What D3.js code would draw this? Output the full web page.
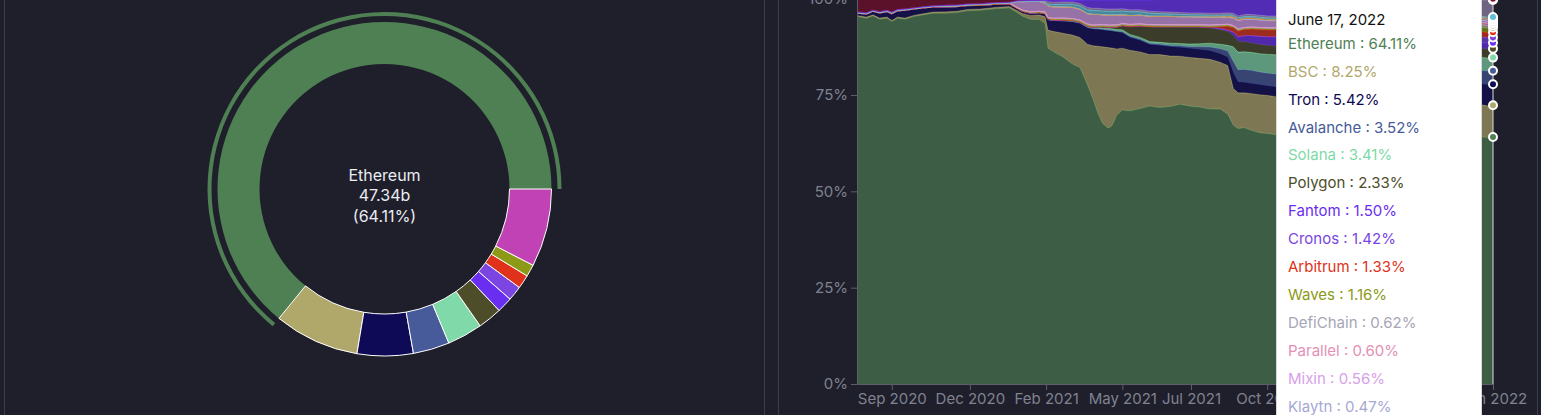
<!DOCTYPE html>
<html><head><meta charset="utf-8">
<script src="https://cdn.jsdelivr.net/npm/d3@7"></script>
<style>
html,body{margin:0;padding:0;background:#1e1f2b;overflow:hidden;}
svg{display:block;font-family:Inter,"Noto Sans",sans-serif;}
</style></head><body>
<svg id="chart" width="1541" height="415"></svg>
<script>
// ---------- DATA ----------
const dates = ["2020-08-10","2020-08-20","2020-08-27","2020-09-03","2020-09-11","2020-09-16","2020-09-22","2020-09-30","2020-10-09","2020-10-19","2020-10-30","2020-11-13","2020-11-24","2020-12-05","2020-12-19","2021-01-06","2021-01-19","2021-01-27","2021-02-02","2021-02-10","2021-02-20","2021-02-26","2021-03-01","2021-03-06","2021-03-17","2021-03-27","2021-04-04","2021-04-12","2021-04-18","2021-04-23","2021-04-28","2021-05-04","2021-05-08","2021-05-13","2021-05-19","2021-05-27","2021-06-07","2021-06-17","2021-06-28","2021-07-09","2021-07-19","2021-07-30","2021-08-09","2021-08-20","2021-08-31","2021-09-08","2021-09-14","2021-09-19","2021-09-26","2021-10-04","2021-10-12","2021-10-21","2021-10-29","2021-11-15","2021-12-01","2021-12-20","2022-01-10","2022-02-01","2022-02-20","2022-03-10","2022-04-01","2022-04-20","2022-05-08","2022-05-15","2022-05-25","2022-06-05","2022-06-11","2022-06-17"];

const ethereum = [95.35,94.94,95.53,94.68,94.94,94.06,94.94,94.68,95.35,95.79,96.24,96.24,96.39,96.91,97.09,97.53,97.79,96.65,95.79,95.02,94.94,93.98,87.2,86.2,84.9,83.1,82.0,77.9,74.1,70.6,68.0,66.7,67.5,70.4,71.4,71.1,71.9,72.7,72.2,72.4,73.0,72.4,72.2,71.7,71.9,70.6,67.2,66.5,66.7,65.9,65.4,65.2,64.9,64.0,62.8,61.9,61.2,61.8,62.4,62.9,63.2,63.5,63.6,64.5,64.3,64.2,64.0,64.11];
const bsc = [0.3,0.3,0.3,0.3,0.3,0.3,0.3,0.3,0.3,0.3,0.3,0.35,0.35,0.35,0.35,0.35,0.4,0.5,0.7,1.0,1.2,1.8,4.7,5.2,6.2,7.5,7.8,10.6,14.0,17.4,20.0,21.0,20.3,17.4,16.1,15.8,14.8,13.5,13.8,13.2,12.5,12.7,12.7,13.0,12.2,12.7,9.6,9.3,9.1,9.6,9.9,9.9,9.9,9.8,9.5,9.4,9.2,9.0,8.8,8.7,8.6,8.5,8.4,8.5,8.4,8.3,8.28,8.25];
const tron = [0.6,0.75,0.9,1.3,1.4,1.7,1.6,2.0,1.65,1.5,1.3,1.3,1.2,1.0,0.9,0.8,0.6,0.5,0.5,0.5,0.5,0.7,2.6,2.7,3.1,3.4,3.6,4.2,4.3,4.4,4.4,4.4,4.4,4.4,4.0,3.3,3.0,2.6,2.4,2.4,2.3,2.3,2.3,2.2,2.2,2.2,4.0,2.8,2.7,2.6,2.6,2.5,2.5,2.4,2.5,2.6,2.8,3.2,3.5,3.8,4.1,4.3,4.6,5.2,5.3,5.4,5.45,5.42];
const avalanche = [0,0,0,0,0,0,0,0,0,0,0,0,0,0,0,0,0.05,0.05,0.05,0.05,0.05,0.05,0.1,0.1,0.1,0.15,0.15,0.2,0.2,0.2,0.2,0.2,0.25,0.25,0.3,0.3,0.3,0.3,0.3,0.35,0.4,0.5,0.7,1.0,1.3,1.6,3.0,3.2,3.4,3.4,3.3,3.3,3.4,4.0,4.8,5.1,5.3,5.0,4.6,4.3,4.2,4.0,3.8,3.6,3.6,3.5,3.55,3.52];
const solana = [0,0,0,0,0,0,0,0,0,0,0,0,0,0,0,0,0.02,0.02,0.03,0.05,0.05,0.08,0.1,0.1,0.15,0.2,0.2,0.3,0.3,0.35,0.4,0.4,0.4,0.45,0.5,0.5,0.5,0.5,0.5,0.6,0.6,0.7,0.8,1.0,1.2,1.5,3.8,4.6,4.6,4.7,4.8,4.9,5.0,5.2,5.0,4.8,4.6,4.2,4.0,3.9,3.8,3.7,3.6,3.5,3.5,3.4,3.42,3.41];
const polygon = [0,0,0,0,0,0,0,0,0,0,0,0,0,0,0,0,0,0,0,0,0,0,0,0,0,0,0,0,0,0.1,0.2,0.3,0.4,0.6,1.0,2.0,2.9,3.8,4.0,4.2,4.3,4.4,4.3,4.0,3.8,3.6,3.0,2.8,2.6,2.5,2.4,2.3,2.3,2.2,2.4,2.6,2.5,2.6,2.7,2.6,2.5,2.4,2.4,2.4,2.4,2.35,2.32,2.33];
const fantom = [0,0,0,0,0,0,0,0,0,0,0,0,0,0,0,0,0,0,0.02,0.03,0.03,0.04,0.05,0.05,0.05,0.05,0.05,0.05,0.05,0.05,0.05,0.05,0.05,0.05,0.1,0.1,0.1,0.1,0.1,0.1,0.1,0.1,0.15,0.2,0.3,0.4,0.8,1.2,1.6,1.9,2.1,2.3,2.4,2.5,2.9,3.4,4.2,4.6,4.1,3.4,2.6,2.2,1.9,1.7,1.6,1.55,1.52,1.50];
const cronos = [0,0,0,0,0,0,0,0,0,0,0,0,0,0,0,0,0,0,0,0,0,0,0,0,0,0,0,0,0,0,0,0,0,0,0,0,0,0,0,0,0,0,0,0,0,0,0,0,0,0,0,0,0,0.3,0.8,1.3,1.6,1.5,1.4,1.4,1.4,1.4,1.5,1.5,1.5,1.45,1.43,1.42];
const arbitrum = [0,0,0,0,0,0,0,0,0,0,0,0,0,0,0,0,0,0,0,0,0,0,0,0,0,0,0,0,0,0,0,0,0,0,0,0,0,0,0,0,0,0,0,0,0.5,1.0,1.2,1.5,1.6,1.7,1.8,1.8,1.8,1.7,1.7,1.6,1.5,1.5,1.5,1.5,1.5,1.4,1.4,1.3,1.3,1.33,1.34,1.33];
const waves = [0.15,0.15,0.15,0.15,0.15,0.2,0.15,0.15,0.15,0.15,0.15,0.2,0.2,0.15,0.15,0.15,0.15,0.15,0.15,0.15,0.15,0.15,0.2,0.2,0.2,0.2,0.2,0.2,0.2,0.2,0.2,0.2,0.2,0.2,0.2,0.2,0.2,0.2,0.2,0.2,0.2,0.2,0.2,0.2,0.2,0.2,0.2,0.2,0.2,0.2,0.2,0.2,0.2,0.3,0.4,0.6,0.8,1.0,1.3,1.6,1.9,2.1,1.8,1.2,1.2,1.18,1.17,1.16];
const defichain = [0,0,0,0,0,0,0,0,0,0,0,0,0,0.05,0.1,0.1,0.1,0.1,0.15,0.15,0.15,0.2,0.2,0.2,0.3,0.3,0.3,0.3,0.3,0.3,0.3,0.3,0.3,0.3,0.3,0.3,0.3,0.3,0.3,0.3,0.3,0.3,0.3,0.3,0.3,0.3,0.3,0.3,0.3,0.3,0.3,0.3,0.3,0.3,0.4,0.5,0.6,0.6,0.6,0.6,0.6,0.6,0.6,0.6,0.6,0.62,0.62,0.62];
const parallel = [0,0,0,0,0,0,0,0,0,0,0,0,0,0,0,0,0,0,0,0,0,0,0,0,0,0,0,0,0,0,0,0,0,0,0,0,0,0,0,0,0,0,0,0,0,0,0,0,0,0,0,0,0,0,0,0,0.1,0.2,0.3,0.4,0.5,0.5,0.5,0.6,0.6,0.6,0.6,0.6];
const mixin = [0,0,0,0,0,0,0,0,0,0,0,0,0,0,0,0,0,1.5,2.2,2.7,2.6,2.4,3.0,3.0,2.9,2.9,2.8,2.7,2.8,2.7,2.6,2.6,2.6,2.6,2.3,2.3,2.3,2.2,2.2,2.2,2.1,2.1,2.0,2.0,1.9,1.8,2.0,2.2,2.2,2.1,2.0,1.9,1.9,1.8,1.6,1.4,1.2,1.0,0.9,0.8,0.7,0.6,0.6,0.6,0.6,0.57,0.56,0.56];
const klaytn = [0,0,0,0,0,0,0,0,0,0,0,0,0,0,0,0,0,0,0,0,0,0,0,0,0,0,0,0,0,0,0,0,0,0,0,0,0,0,0,0,0,0,0,0,0,0,0,0,0,0,0,0,0,0.3,0.5,0.6,0.6,0.6,0.6,0.6,0.6,0.6,0.5,0.5,0.5,0.47,0.47,0.47];
const harmony = [0,0,0,0,0,0,0,0,0,0,0,0,0,0,0,0,0,0,0,0,0,0,0,0,0,0,0,0,0,0,0,0,0,0,0,0,0,0,0,0,0,0,0.1,0.2,0.2,0.3,0.3,0.3,0.3,0.3,0.3,0.3,0.3,0.4,0.5,0.5,0.4,0.4,0.4,0.4,0.4,0.4,0.4,0.3,0.3,0.3,0.3,0.3];
const heco = [0,0,0,0,0,0,0,0,0,0,0,0,0,0,0,0,0,0,0,0,0,0.3,0.5,0.6,0.7,0.8,0.9,1.0,1.0,1.0,1.0,1.0,1.0,1.0,1.0,1.0,0.9,0.8,0.7,0.6,0.6,0.5,0.5,0.4,0.4,0.4,0.4,0.4,0.4,0.4,0.4,0.4,0.4,0.3,0.3,0.3,0.3,0.3,0.3,0.3,0.3,0.3,0.3,0.3,0.3,0.25,0.25,0.25];
const others = [0.15,0.2,0.15,0.2,0.2,0.24,0.2,0.2,0.15,0.15,0.15,0.2,0.2,0.2,0.2,0.17,0.15,0.15,0.2,0.2,0.2,0.3,0.6,0.6,0.6,0.6,0.6,0.6,0.6,0.6,0.6,0.6,0.6,0.6,0.6,0.5,0.5,0.5,0.5,0.5,0.5,0.5,0.5,0.5,0.5,0.5,0.5,0.5,0.5,0.5,0.5,0.5,0.5,1.0,1.2,1.3,1.3,1.4,1.5,1.6,1.7,1.9,2.6,3.4,3.8,4.3,4.5,4.45];
const terra = [0,0,0,0,0,0,0,0,0,0,0,0,0,0,0,0,0.05,0.05,0.1,0.1,0.1,0.15,0.4,0.5,0.5,0.5,0.9,2.0,2.2,2.2,2.3,2.4,2.4,2.4,2.3,2.6,2.6,3.0,3.2,3.3,3.4,3.5,3.5,3.6,3.6,3.5,3.6,4.3,3.9,4.0,4.2,4.4,4.4,3.5,2.8,2.2,1.9,1.1,1.0,1.1,1.2,1.3,1.3,0.2,0.1,0.12,0.12,0.12];
const eos = [3.45,3.66,2.97,3.37,3.01,3.5,2.81,2.67,2.4,2.11,1.86,1.71,1.66,1.39,1.31,1.0,0.91,0.55,0.46,0.43,0.41,0.37,0.4,0.4,0.35,0.35,0.35,0.3,0.3,0.3,0.3,0.3,0.3,0.3,0.3,0.3,0.3,0.3,0.2,0.2,0.2,0.2,0.2,0.2,0.2,0.2,0.2,0.2,0.2,0.1,0.1,0.1,0.1,0.1,0.1,0.1,0.1,0.1,0.1,0.1,0.1,0.1,0.1,0.2,0.2,0.18,0.18,0.18];

const seriesNames = ["Ethereum","BSC","Tron","Avalanche","Solana","Polygon","Fantom","Cronos","Arbitrum","Waves","DefiChain","Parallel","Mixin","Klaytn","Harmony","Heco","Others","Terra","EOS"];
const seriesData = [ethereum,bsc,tron,avalanche,solana,polygon,fantom,cronos,arbitrum,waves,defichain,parallel,mixin,klaytn,harmony,heco,others,terra,eos];
const seriesColors = ["#4f8053","#b0a86a","#0f0a55","#475a9a","#7fd9a8","#4d4d2a","#6a2ef0","#7a45e0","#e0321a","#8c9a18","#a6a6b6","#e48fb5","#d8a0e8","#a6a8d4","#e0902a","#5fc0d8","#9a8cb0","#7034ff","#7d0a2a"];

const pieLabels = ["Ethereum","BSC","Tron","Avalanche","Solana","Polygon","Fantom","Cronos","Arbitrum","Waves","Others"];
const pieValues = [47.34,6.09,4.00,2.60,2.52,1.72,1.11,1.05,0.98,0.86,5.57];
const pieColors = ["#4f8053","#b0a86a","#0f0a55","#475a9a","#7fd9a8","#4d4d2a","#6a2ef0","#7a45e0","#e0321a","#8c9a18","#c142b4"];

const xTickDates = ["2020-09-16","2020-12-08","2021-02-27","2021-05-19","2021-07-31","2021-10-20","2022-01-08","2022-03-29","2022-06-17"];
const yTickValues = [0,0.25,0.5,0.75,1];
const hoverTitle = "June 17, 2022";

// ---------- DRAW ----------
const svg = d3.select("#chart");
const bg = "#1e1f2b", border = "#3b3d4c";
svg.append("rect").attr("width",1541).attr("height",415).attr("fill",bg);
svg.append("rect").attr("x",4.5).attr("y",-10).attr("width",760).attr("height",440).attr("fill",bg).attr("stroke",border);
svg.append("rect").attr("x",778.5).attr("y",-10).attr("width",759).attr("height",440).attr("fill",bg).attr("stroke",border);

// ---- Pie ----
const cx = 384.5, cy = 189, rIn = 125, rOut = 167;
const pie = d3.pie().sort(null).value(d=>d).startAngle(Math.PI/2).endAngle(Math.PI/2 - 2*Math.PI);
const arcs = pie(pieValues);
const arc = d3.arc().innerRadius(rIn).outerRadius(rOut);
const gPie = svg.append("g").attr("transform",`translate(${cx},${cy})`);
gPie.selectAll("path.slice").data(arcs).join("path")
  .attr("class","slice")
  .attr("d",arc)
  .attr("fill",(d,i)=>pieColors[i])
  .attr("stroke",(d,i)=>i===0?"none":"#ffffff")
  .attr("stroke-width",1);
gPie.append("path")
  .attr("d",d3.arc().innerRadius(rOut+6).outerRadius(rOut+10)(arcs[0]))
  .attr("fill",pieColors[0]);
const pieTotal = d3.sum(pieValues);
const centerLines = [pieLabels[0], pieValues[0].toFixed(2)+"b", "("+(pieValues[0]/pieTotal*100).toFixed(2)+"%)"];
gPie.selectAll("text.center").data(centerLines).join("text")
  .attr("class","center")
  .attr("x",0).attr("y",(d,i)=>-8.2+i*20.5)
  .attr("text-anchor","middle")
  .attr("fill","#ececf2")
  .attr("font-size",16)
  .text(d=>d);

// ---- Stacked area ----
const parse = d3.timeParse("%Y-%m-%d");
const rows = dates.map((d,i)=>{const r={date:parse(d)}; seriesNames.forEach((n,j)=>{r[n]=seriesData[j][i];}); return r;});
const plotL = 857, plotR = 1493, plotB = 384, plotT = -1.3;
const x = d3.scaleTime().domain([rows[0].date, rows[rows.length-1].date]).range([plotL, plotR]);
const y = d3.scaleLinear().domain([0,1]).range([plotB, plotT]);
const stacked = d3.stack().keys(seriesNames).offset(d3.stackOffsetExpand)(rows);

svg.append("clipPath").attr("id","plotclip").append("rect")
  .attr("x",plotL).attr("y",0).attr("width",plotR-plotL).attr("height",plotB);
const gArea = svg.append("g").attr("clip-path","url(#plotclip)");
const area = d3.area().x(d=>x(d.data.date)).y0(d=>y(d[0])).y1(d=>y(d[1]));
const topLine = d3.line().x(d=>x(d.data.date)).y(d=>y(d[1]));
stacked.forEach((layer,i)=>{
  gArea.append("path").attr("d",area(layer)).attr("fill",seriesColors[i]).attr("fill-opacity",0.65);
  gArea.append("path").attr("d",topLine(layer)).attr("fill","none").attr("stroke",seriesColors[i]).attr("stroke-width",1);
});

// axes
const axisColor = "#5c5e6c", textColor = "#80828f";
const gx = svg.append("g").attr("transform",`translate(0,${plotB})`)
  .call(d3.axisBottom(x).tickValues(xTickDates.map(parse)).tickFormat(d3.timeFormat("%b %Y")).tickSize(6).tickSizeOuter(0).tickPadding(3));
const gy = svg.append("g").attr("transform",`translate(${plotL},0)`)
  .call(d3.axisLeft(y).tickValues(yTickValues).tickFormat(d3.format(".0%")).tickSize(6).tickSizeOuter(0).tickPadding(3));
[gx,gy].forEach(g=>{
  g.select(".domain").attr("stroke",axisColor);
  g.selectAll(".tick line").attr("stroke",axisColor);
  g.selectAll(".tick text").attr("fill",textColor).attr("font-size",15).attr("font-family","Inter,'Noto Sans',sans-serif");
});

// hover cursor + dots
const last = rows.length-1;
const hx = x(rows[last].date);
svg.append("line").attr("x1",hx).attr("x2",hx).attr("y1",0).attr("y2",plotB).attr("stroke","#dddddd").attr("stroke-width",1);
stacked.forEach((layer,i)=>{
  svg.append("circle").attr("cx",hx).attr("cy",y(layer[last][1])).attr("r",4)
    .attr("fill",seriesColors[i]).attr("stroke","#ffffff").attr("stroke-width",2);
});

// tooltip (rows that fall inside the picture)
const tipX = 1276.5;
const gTip = svg.append("g");
gTip.append("rect").attr("x",tipX).attr("y",-10).attr("width",205).attr("height",460)
  .attr("fill","#ffffff").attr("stroke","#d8d8d8");
gTip.append("text").attr("x",tipX+11.5).attr("y",24.5).attr("fill","#111111").attr("font-size",15).text(hoverTitle);
const lastTotal = d3.sum(seriesData, s=>s[last]);
const tipRows = seriesNames.map((n,i)=>({name:n, color:seriesColors[i], pct:seriesData[i][last]/lastTotal*100, yPos:48.8+i*27.9}))
  .filter(r=>r.yPos-11 < 415);
gTip.selectAll("text.item").data(tipRows).join("text")
  .attr("class","item")
  .attr("x",tipX+11.5).attr("y",d=>d.yPos)
  .attr("fill",d=>d.color)
  .attr("font-size",15)
  .text(d=>`${d.name} : ${d.pct.toFixed(2)}%`);
</script>
</body></html>
